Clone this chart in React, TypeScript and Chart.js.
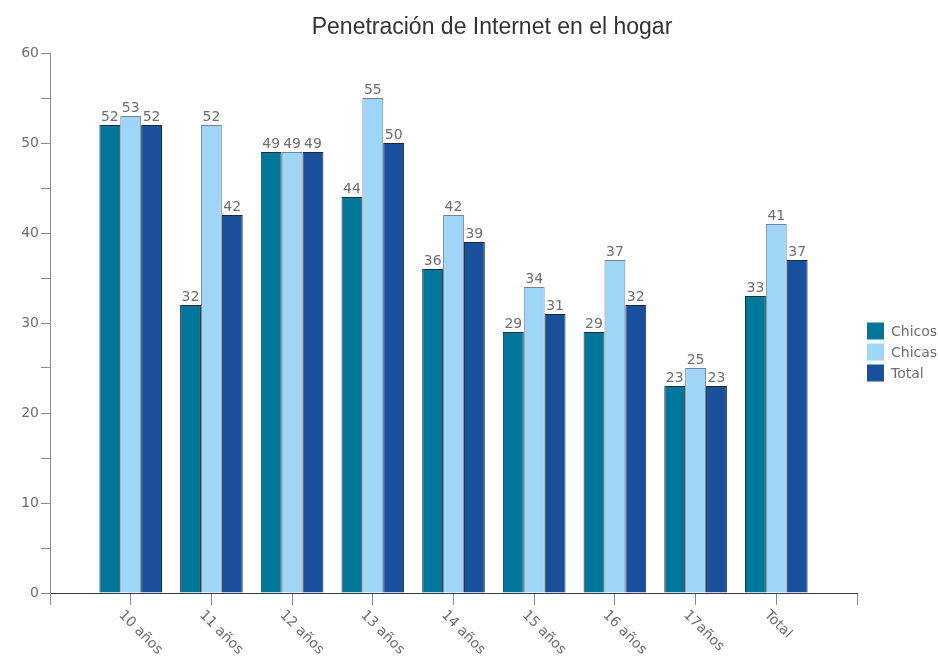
import React, { useEffect, useRef } from 'react';
import { Chart, registerables } from 'chart.js';

Chart.register(...registerables);

const TITLE = 'Penetración de Internet en el hogar';
const categories = ['10 años', '11 años', '12 años', '13 años', '14 años', '15 años', '16 años', '17años', 'Total'];
const chicos = [52, 32, 49, 44, 36, 29, 29, 23, 33];
const chicas = [53, 52, 49, 55, 42, 34, 37, 25, 41];
const total = [52, 42, 49, 50, 39, 31, 32, 23, 37];
const seriesNames = ['Chicos', 'Chicas', 'Total'];
const seriesColors = ['#00779a', '#9fd6f7', '#1a4f9b'];
const seriesBorders = ['#1f2f38', '#6f8596', '#172840'];
const yMin = 0;
const yMax = 60;
const yStep = 5;
const yLabelStep = 10;

const FONT = '"DejaVu Sans", Verdana, sans-serif';
const TEXT_GREY = '#6e6e6e';

// axis slots: one empty slot at each end, as in the original
const labels = ['', ...categories, ''];
const pad = (arr: number[]) => [null, ...arr, null];

const decorPlugin = {
  id: 'decor',
  afterDatasetsDraw(chart: any) {
    const ctx = chart.ctx;
    ctx.save();
    ctx.font = `14px ${FONT}`;
    ctx.fillStyle = TEXT_GREY;
    ctx.textAlign = 'center';
    ctx.textBaseline = 'bottom';
    chart.data.datasets.forEach((ds: any, di: number) => {
      const meta = chart.getDatasetMeta(di);
      meta.data.forEach((el: any, i: number) => {
        const v = ds.data[i];
        if (v === null || v === undefined) return;
        ctx.fillText(String(v), el.x, el.y - 1);
      });
    });
    ctx.restore();
  },
  afterDraw(chart: any) {
    const ctx = chart.ctx;
    const area = chart.chartArea;
    const xs = chart.scales.x;
    ctx.save();

    // title
    ctx.font = '23px "Liberation Sans", Arial, sans-serif';
    ctx.fillStyle = '#333333';
    ctx.textAlign = 'center';
    ctx.textBaseline = 'alphabetic';
    ctx.fillText(TITLE, (area.left + chart.width) / 2 - 2, 34);

    // rotated category labels
    ctx.font = `14px ${FONT}`;
    ctx.fillStyle = TEXT_GREY;
    ctx.textAlign = 'left';
    ctx.textBaseline = 'top';
    for (let i = 0; i < labels.length; i++) {
      const t = labels[i];
      if (!t) continue;
      const x = xs.getPixelForTick(i);
      ctx.save();
      ctx.translate(x - 5, area.bottom + 15);
      ctx.rotate(Math.PI / 4);
      ctx.fillText(t, 0, 0);
      ctx.restore();
    }

    // legend
    const lx = area.right + 10;
    const rowH = 21;
    const box = 17;
    const cy = (area.top + chart.height) / 2 - 3;
    const n = chart.data.datasets.length;
    const startY = cy - (n * rowH) / 2;
    ctx.font = `14px ${FONT}`;
    ctx.textBaseline = 'middle';
    chart.data.datasets.forEach((ds: any, i: number) => {
      const yc = startY + i * rowH + rowH / 2;
      ctx.fillStyle = ds.backgroundColor;
      ctx.fillRect(lx, yc - box / 2, box, box);
      ctx.fillStyle = TEXT_GREY;
      ctx.fillText(ds.label, lx + box + 7, yc + 1);
    });
    ctx.restore();
  },
};

export default function App() {
  const ref = useRef<HTMLCanvasElement | null>(null);
  useEffect(() => {
    if (!ref.current) return;
    const series = [chicos, chicas, total];
    const chart = new Chart(ref.current, {
      type: 'bar',
      data: {
        labels,
        datasets: series.map((s, i) => ({
          label: seriesNames[i],
          data: pad(s),
          backgroundColor: seriesColors[i],
          borderColor: seriesBorders[i],
          borderWidth: 1,
          categoryPercentage: 0.776,
          barPercentage: 1.0,
        })),
      },
      options: {
        animation: false,
        responsive: false,
        devicePixelRatio: 1,
        layout: { padding: { top: 53, right: 81, bottom: 0, left: 0 } },
        plugins: {
          legend: { display: false },
          title: { display: false },
          tooltip: { enabled: false },
        },
        scales: {
          x: {
            type: 'category',
            offset: false,
            grid: {
              offset: false,
              drawOnChartArea: false,
              drawTicks: true,
              tickLength: 12,
              color: '#8a8a8a',
            },
            border: { display: true, color: '#2e3a52', width: 1 },
            ticks: { display: false, autoSkip: false },
            afterFit: (scale: any) => {
              scale.height = 64;
            },
          },
          y: {
            min: yMin,
            max: yMax,
            grid: {
              drawOnChartArea: false,
              drawTicks: true,
              tickLength: 9,
              color: '#8a8a8a',
            },
            border: { display: true, color: '#8a8a8a', width: 1 },
            ticks: {
              stepSize: yStep,
              color: TEXT_GREY,
              font: { family: FONT, size: 14 },
              padding: 2,
              callback: (v: any) => (Number(v) % yLabelStep === 0 ? String(v) : ''),
            },
            afterFit: (scale: any) => {
              scale.width = 50;
            },
          },
        },
      },
      plugins: [decorPlugin],
    });
    return () => chart.destroy();
  }, []);
  return (
    <div style={{ position: 'absolute', left: 0, top: 0, width: 938, height: 657, background: '#fff' }}>
      <canvas ref={ref} width={938} height={657} style={{ display: 'block' }} />
    </div>
  );
}
